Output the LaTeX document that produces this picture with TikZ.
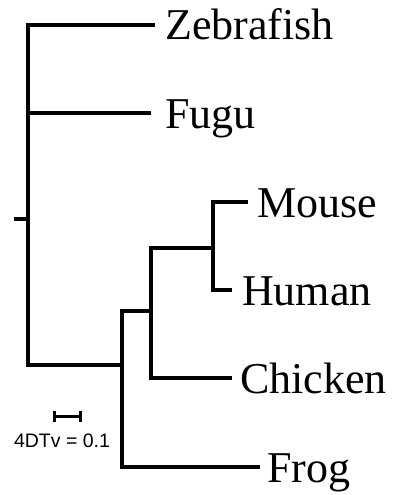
\documentclass[tikz,border=0pt]{standalone}
\usepackage{fontspec}
\setmainfont{Liberation Serif}
\newfontfamily\barfont{Liberation Sans}
\begin{document}
\begin{tikzpicture}[x=1pt,y=-1pt,
  br/.style={line width=4pt, line join=miter},
  lab/.style={anchor=base west, inner sep=0pt, font=\fontsize{44}{44}\selectfont},
  sb/.style={line width=3pt}]
\useasboundingbox (0,0) rectangle (393,495);
% internal nodes
\coordinate (root) at (28,219);
\coordinate (rstub) at (14,219);
\coordinate (rtop) at (28,25);
\coordinate (rbot) at (28,365);
\coordinate (rfugu) at (28,113);
\coordinate (n1) at (122,365);
\coordinate (n1top) at (122,311);
\coordinate (n1bot) at (122,467);
\coordinate (n2) at (151,311);
\coordinate (n2top) at (151,248);
\coordinate (n2bot) at (151,378);
\coordinate (n3) at (213,248);
\coordinate (n3top) at (213,202);
\coordinate (n3bot) at (213,290);
% tips
\coordinate (tzf) at (155,25);
\coordinate (tfu) at (151,113);
\coordinate (tmo) at (248,202);
\coordinate (thu) at (232,290);
\coordinate (tch) at (232,378);
\coordinate (tfr) at (260,467);
% labels
\node[lab] (lzf) at (165,40) {Zebrafish};
\node[lab] (lfu) at (165,128) {Fugu};
\node[lab] (lmo) at (257,217) {Mouse};
\node[lab] (lhu) at (242,305) {Human};
\node[lab] (lch) at (240,393) {Chicken};
\node[lab] (lfr) at (267,482) {Frog};
% branches
\draw[br] (rstub) -- (root);
\draw[br] (tzf) -- (rtop) -- (rbot) -- (n1);
\draw[br] (rfugu) -- (tfu);
\draw[br] (n2) -- (n1top) -- (n1bot) -- (tfr);
\draw[br] (n3) -- (n2top) -- (n2bot) -- (tch);
\draw[br] (tmo) -- (n3top) -- (n3bot) -- (thu);
% scale bar
\coordinate (sbl) at (54,416);
\coordinate (sbr) at (80,416);
\draw[sb] (sbl) -- (sbr);
\draw[sb] ([yshift=-5.5pt]sbl) -- ([yshift=5.5pt]sbl);
\draw[sb] ([yshift=-5.5pt]sbr) -- ([yshift=5.5pt]sbr);
\node[anchor=base, inner sep=0pt, font=\barfont\fontsize{19.5}{19.5}\selectfont] (sbt) at (62,447) {4DTv = 0.1};
\end{tikzpicture}
\end{document}
